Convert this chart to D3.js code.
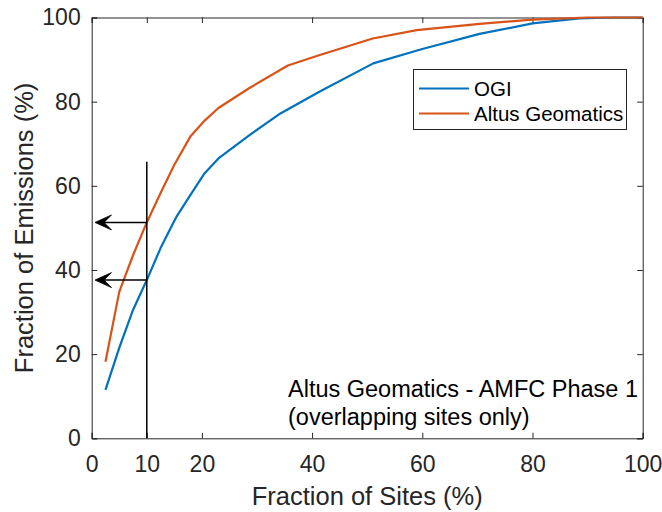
<!DOCTYPE html>
<html>
<head>
<meta charset="utf-8">
<script src="https://cdn.jsdelivr.net/npm/d3@7/dist/d3.min.js"></script>
<style>
  html, body { margin: 0; padding: 0; background: #fff; }
  svg { display: block; }
  text { font-family: "Liberation Sans", Arial, Helvetica, sans-serif; fill: #262626; }
</style>
</head>
<body>
<svg id="chart" width="662" height="512"></svg>
<script>
// Cumulative emissions curves (site fraction vs emission fraction, %)
const ogiSites = [2.5, 5, 7.5, 10, 12.5, 15.4, 17.9, 20.5, 23, 28.7, 34, 41.4, 51.1, 60, 70.4, 80, 88.5, 95, 100];
const ogiEmissions = [11.5, 21.5, 30.5, 37.6, 45.2, 52.7, 57.8, 63, 66.5, 72.1, 77, 82.4, 89.1, 92.5, 96.1, 98.6, 99.8, 100, 100];
const altusSites = [2.5, 5, 7.5, 10, 12.5, 15, 17.9, 20.5, 23, 28.7, 35.6, 41.4, 51, 59, 70.4, 80, 90, 100];
const altusEmissions = [18.2, 34.8, 43.5, 51.3, 58.3, 65, 71.7, 75.5, 78.5, 83.3, 88.6, 91.1, 95, 97, 98.5, 99.5, 100, 100];

const seriesNames = ["OGI", "Altus Geomatics"];
const xTickValues = [0, 10, 20, 40, 60, 80, 100];
const yTickValues = [0, 20, 40, 60, 80, 100];

// Reference line at 10% of sites and the emission shares it picks off
const markSite = 10;
const markTop = 65.7;
const arrowTip = 0.6;
const arrowLevels = [altusEmissions[3], ogiEmissions[3]];

const annotationLines = ["Altus Geomatics - AMFC Phase 1", "(overlapping sites only)"];
const xLabel = "Fraction of Sites (%)";
const yLabel = "Fraction of Emissions (%)";

const colors = ["#0072BD", "#D95319"];
const axisColor = "#262626";

const svg = d3.select("#chart");
const plot = { left: 91.7, right: 642.7, top: 17.5, bottom: 438.3 };

const x = d3.scaleLinear().domain([0, 100]).range([plot.left, plot.right]);
const y = d3.scaleLinear().domain([0, 100]).range([plot.bottom, plot.top]);

const tickLen = 5.5;

// Axes: ticks point inward, labelled on bottom and left, box on all sides
const xAxisBottom = d3.axisBottom(x).tickValues(xTickValues).tickSize(-tickLen).tickPadding(17).tickFormat(d3.format("d"));
const xAxisTop = d3.axisTop(x).tickValues(xTickValues).tickSize(-tickLen).tickFormat("");
const yAxisLeft = d3.axisLeft(y).tickValues(yTickValues).tickSize(-tickLen).tickPadding(11).tickFormat(d3.format("d"));
const yAxisRight = d3.axisRight(y).tickValues(yTickValues).tickSize(-tickLen).tickFormat("");

function styleAxis(g) {
  g.select(".domain").attr("stroke", axisColor).attr("stroke-width", 1);
  g.selectAll(".tick line").attr("stroke", axisColor).attr("stroke-width", 1);
  g.selectAll(".tick text").attr("fill", axisColor).style("font-size", "23px")
    .style("font-family", '"Liberation Sans", Arial, sans-serif');
}

svg.append("g").attr("transform", `translate(0,${plot.bottom})`).call(xAxisBottom).call(styleAxis);
svg.append("g").attr("transform", `translate(0,${plot.top})`).call(xAxisTop).call(styleAxis);
svg.append("g").attr("transform", `translate(${plot.left},0)`).call(yAxisLeft).call(styleAxis);
svg.append("g").attr("transform", `translate(${plot.right},0)`).call(yAxisRight).call(styleAxis);

// Axis titles, centred on the plot box
svg.append("text")
  .attr("x", (plot.left + plot.right) / 2).attr("y", 505)
  .attr("text-anchor", "middle")
  .style("font-size", "25.5px")
  .text(xLabel);

svg.append("text")
  .attr("transform", `translate(33,${(plot.top + plot.bottom) / 2}) rotate(-90)`)
  .attr("text-anchor", "middle")
  .style("font-size", "25.5px")
  .text(yLabel);

// Curves
const line = d3.line().x(d => x(d[0])).y(d => y(d[1]));
const series = [
  d3.zip(ogiSites, ogiEmissions),
  d3.zip(altusSites, altusEmissions)
];
const plotArea = svg.append("g");
series.forEach((pts, i) => {
  plotArea.append("path")
    .datum(pts)
    .attr("fill", "none")
    .attr("stroke", colors[i])
    .attr("stroke-width", 2.2)
    .attr("stroke-linejoin", "round")
    .attr("d", line);
});

// Vertical marker line at 10% of sites
plotArea.append("line")
  .attr("x1", x(markSite)).attr("x2", x(markSite))
  .attr("y1", y(0)).attr("y2", y(markTop))
  .attr("stroke", "#000").attr("stroke-width", 1.5);

// Arrows pointing to the emission share
arrowLevels.forEach(level => {
  const yy = y(level);
  const tipX = x(arrowTip);
  plotArea.append("line")
    .attr("x1", x(markSite)).attr("x2", tipX + 4)
    .attr("y1", yy).attr("y2", yy)
    .attr("stroke", "#000").attr("stroke-width", 1.5);
  plotArea.append("path")
    .attr("d", `M${tipX},${yy} L${tipX + 16.5},${yy - 7.5} L${tipX + 9},${yy} L${tipX + 16.5},${yy + 7.5} Z`)
    .attr("fill", "#000")
    .attr("stroke", "#000")
    .attr("stroke-width", 0.8)
    .attr("stroke-linejoin", "miter");
});

// Legend
const legend = svg.append("g");
legend.append("rect")
  .attr("x", 413.5).attr("y", 69.5).attr("width", 213).attr("height", 60)
  .attr("fill", "#fff").attr("stroke", axisColor).attr("stroke-width", 1);
seriesNames.forEach((name, i) => {
  const ly = 88.5 + i * 25;
  legend.append("line")
    .attr("x1", 419).attr("x2", 469).attr("y1", ly).attr("y2", ly)
    .attr("stroke", colors[i]).attr("stroke-width", 2.2);
  legend.append("text")
    .attr("x", 474).attr("y", ly + 7.5)
    .style("font-size", "20.5px")
    .style("fill", "#000")
    .text(name);
});

// Annotation
const note = svg.append("text").style("font-size", "23.5px").style("fill", "#000");
annotationLines.forEach((t, i) => {
  note.append("tspan").attr("x", 288).attr("y", 397 + i * 28).text(t);
});
</script>
</body>
</html>
